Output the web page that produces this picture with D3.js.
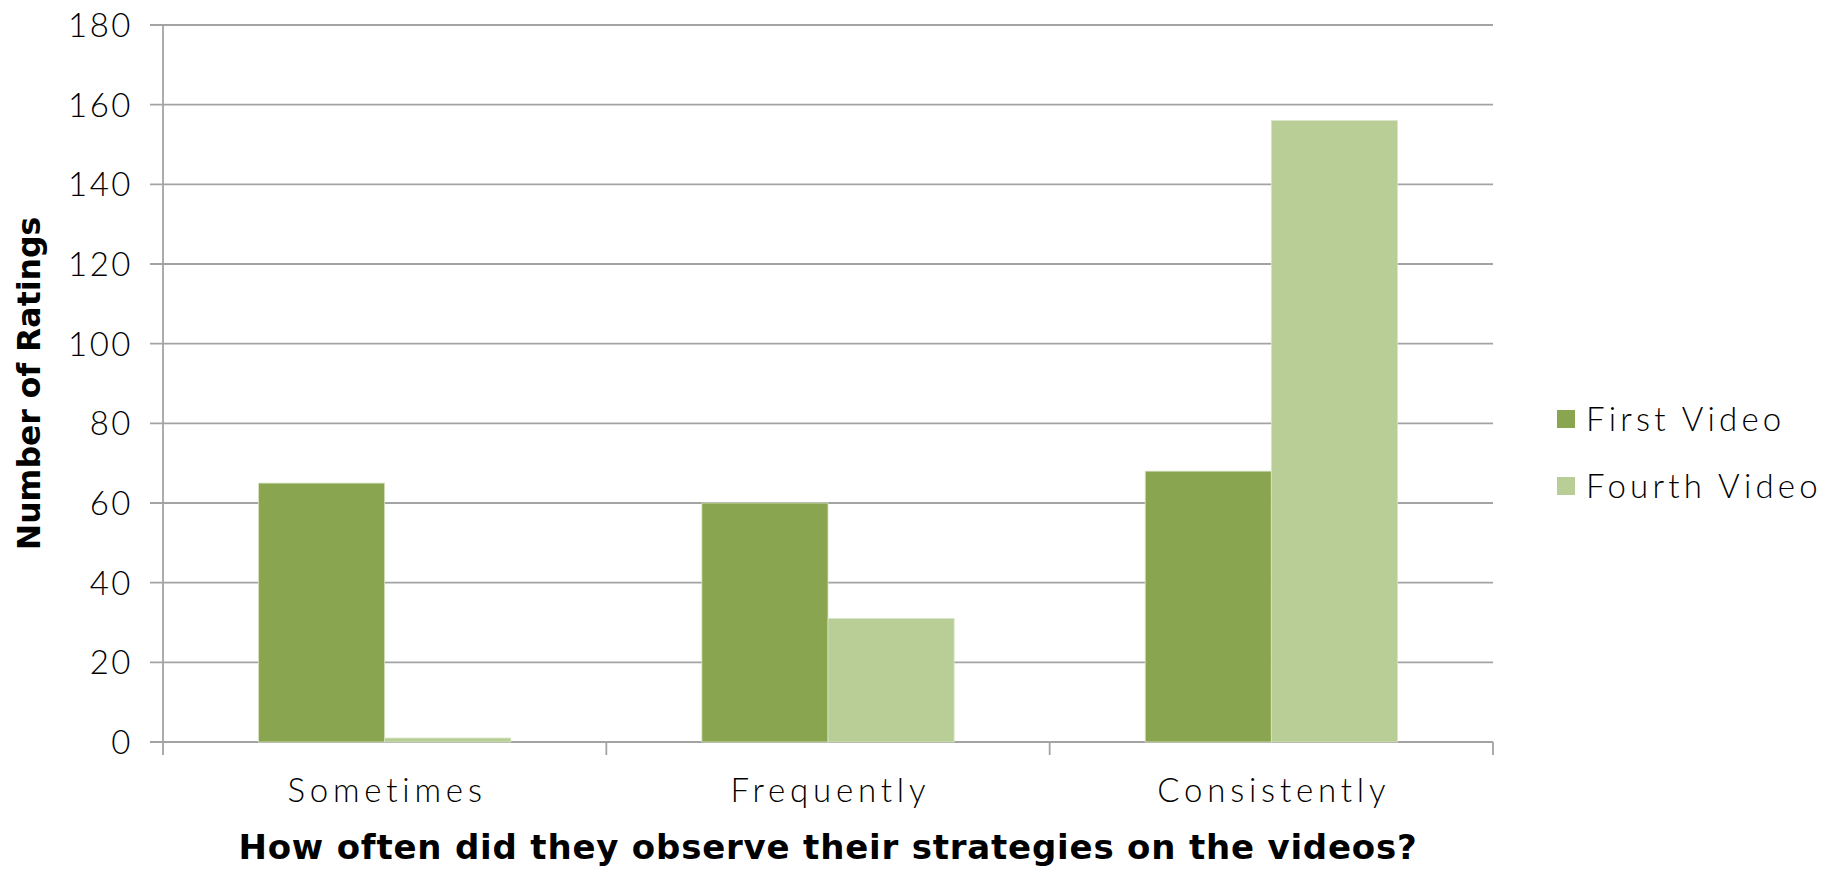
<!DOCTYPE html>
<html>
<head>
<meta charset="utf-8">
<script src="https://cdn.jsdelivr.net/npm/d3@7"></script>
<style>
  html, body { margin: 0; padding: 0; background: #fff; }
  svg { display: block; }
  .tick text { font-family: "Lato", "DejaVu Sans", sans-serif; font-weight: 300; fill: #000; }
</style>
</head>
<body>
<script>
const categories = ["Sometimes", "Frequently", "Consistently"];
const seriesNames = ["First Video", "Fourth Video"];
const firstVideo = [65, 60, 68];
const fourthVideo = [1, 31, 156];
const yTicks = [0, 20, 40, 60, 80, 100, 120, 140, 160, 180];
const colors = ["#8aa54f", "#b9ce96"];
const yTitle = "Number of Ratings";
const xTitle = "How often did they observe their strategies on the videos?";

const W = 1835, H = 874;
const mLeft = 163, mRight = 1493, mTop = 25, mBottom = 742;

const svg = d3.select("body").append("svg").attr("width", W).attr("height", H);

const x0 = d3.scaleBand().domain(categories).range([mLeft, mRight])
  .paddingInner(0.431).paddingOuter(0.2155);
const x1 = d3.scaleBand().domain(seriesNames).range([0, x0.bandwidth()]);
const y = d3.scaleLinear().domain([0, 180]).range([mBottom, mTop]);

// gridlines
svg.append("g").selectAll("line").data(yTicks).join("line")
  .attr("x1", mLeft - 13).attr("x2", mRight)
  .attr("y1", d => y(d)).attr("y2", d => y(d))
  .attr("stroke", "#a3a3a3").attr("stroke-width", 1.8);

// y axis line
svg.append("line").attr("x1", mLeft).attr("x2", mLeft)
  .attr("y1", mTop).attr("y2", mBottom)
  .attr("stroke", "#a3a3a3").attr("stroke-width", 1.8);

// x category boundary ticks
const boundaries = [mLeft].concat(categories.map(c => x0(c) + x0.bandwidth() + x0.step() * x0.paddingInner() / 2));
boundaries[boundaries.length - 1] = mRight;
svg.append("g").selectAll("line").data(boundaries).join("line")
  .attr("x1", d => d).attr("x2", d => d)
  .attr("y1", mBottom).attr("y2", mBottom + 13)
  .attr("stroke", "#a3a3a3").attr("stroke-width", 1.8);

// bars
const data = categories.map((c, i) => ({ cat: c, vals: [firstVideo[i], fourthVideo[i]] }));
const groups = svg.append("g").selectAll("g").data(data).join("g")
  .attr("transform", d => `translate(${x0(d.cat)},0)`);
groups.selectAll("rect").data(d => d.vals.map((v, j) => ({ v, s: seriesNames[j], j })))
  .join("rect")
  .attr("x", d => x1(d.s))
  .attr("y", d => y(d.v))
  .attr("width", x1.bandwidth())
  .attr("height", d => mBottom - y(d.v))
  .attr("fill", d => colors[d.j])
  .attr("stroke", "#d8e4c6").attr("stroke-width", 0.8);

// y axis labels
const yAxis = d3.axisLeft(y).tickValues(yTicks).tickSize(0).tickPadding(0);
const yg = svg.append("g").attr("transform", `translate(${mLeft - 30},0)`).call(yAxis);
yg.select(".domain").remove();
yg.selectAll(".tick text").attr("font-size", 33).attr("dy", "0.35em")
  .style("letter-spacing", "2.5px");

// x axis labels
const xAxis = d3.axisBottom(x0).tickSize(0).tickPadding(0);
const xg = svg.append("g").attr("transform", `translate(0,${mBottom + 37})`).call(xAxis);
xg.select(".domain").remove();
xg.selectAll(".tick text").attr("font-size", 33).attr("dy", "0.71em")
  .attr("dx", 2.4)
  .style("letter-spacing", "4.8px");

// axis titles
svg.append("text").attr("x", (mLeft + mRight) / 2).attr("y", 859)
  .attr("text-anchor", "middle")
  .attr("font-family", "'DejaVu Sans', sans-serif").attr("font-weight", "bold")
  .attr("font-size", 34).style("letter-spacing", "0.8px").text(xTitle);

svg.append("text")
  .attr("transform", `translate(40,${(mTop + mBottom) / 2}) rotate(-90)`)
  .attr("text-anchor", "middle")
  .attr("font-family", "'DejaVu Sans', sans-serif").attr("font-weight", "bold")
  .attr("font-size", 31.5).text(yTitle);

// legend
const legend = svg.append("g").selectAll("g").data(seriesNames).join("g")
  .attr("transform", (d, i) => `translate(1557,${410 + i * 67})`);
legend.append("rect").attr("width", 18).attr("height", 18)
  .attr("fill", (d, i) => colors[i]);
legend.append("text").attr("x", 29).attr("y", 9).attr("dy", "0.35em")
  .attr("font-family", "Lato, 'DejaVu Sans', sans-serif").attr("font-weight", 300)
  .attr("font-size", 33).style("letter-spacing", "4.2px").text(d => d);
</script>
</body>
</html>
